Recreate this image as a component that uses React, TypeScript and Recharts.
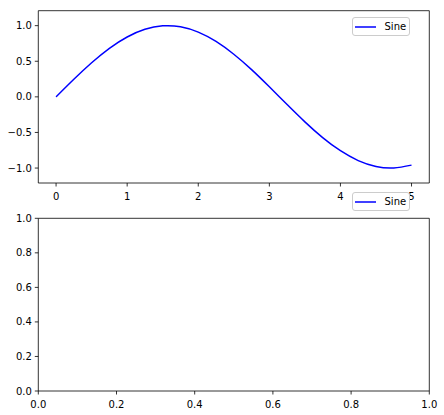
import { LineChart, Line, XAxis, YAxis, ReferenceLine } from 'recharts';

// sine curve
const xValues = [0, 0.25, 0.5, 0.75, 1, 1.25, 1.5, 1.75, 2, 2.25, 2.5, 2.75, 3, 3.25, 3.5, 3.75, 4, 4.25, 4.5, 4.75, 5];
const sineValues = [0, 0.247, 0.479, 0.682, 0.841, 0.949, 0.997, 0.984, 0.909, 0.778, 0.598, 0.382, 0.141, -0.108, -0.351, -0.572, -0.757, -0.895, -0.978, -0.999, -0.959];
const topXTicks = [0, 1, 2, 3, 4, 5];
const topYTicks = [-1, -0.5, 0, 0.5, 1];
const bottomTicks = [0, 0.2, 0.4, 0.6, 0.8, 1];
const seriesName = 'Sine';

const sineData = xValues.map((x, i) => ({ x, y: sineValues[i] }));

const topXDomain: [number, number] = [-0.25, 5.25];
const topYDomain: [number, number] = [-1.21, 1.21];

const FONT = '"DejaVu Sans", sans-serif';
const tickStyle = { fill: '#000', fontSize: 10, fontFamily: FONT };
const axisLine = { stroke: '#000', strokeWidth: 0.8 };
const tickLine = { stroke: '#000', strokeWidth: 0.8 };

const minus = (s: string) => s.replace('-', '\u2212');
const fmtInt = (v: number) => minus(String(v));
const fmt1 = (v: number) => minus(v.toFixed(1));

// matplotlib-style legend box, placed over the chart
const LegendBox = ({ left, top }: { left: number; top: number }) => (
  <div style={{
    position: 'absolute', left, top,
    width: 56, height: 17, border: '1px solid #cccccc', borderRadius: 3,
    background: 'rgba(255,255,255,0.8)', display: 'flex', alignItems: 'center',
    fontFamily: FONT, fontSize: 10, color: '#000',
  }}>
    <svg width={30} height={17} style={{ display: 'block' }}>
      <line x1={2} x2={23} y1={9} y2={9} stroke="#0000ff" strokeWidth={1.5} />
    </svg>
    <span style={{ marginLeft: 2 }}>{seriesName}</span>
  </div>
);

const App = () => (
  <div style={{ position: 'absolute', left: 0, top: 0, width: 444, height: 415, background: '#fff', fontFamily: FONT }}>
    <div style={{ position: 'absolute', left: 0, top: 0 }}>
      <LineChart width={444} height={205} data={sineData} margin={{ top: 10.7, right: 14.7, left: 0, bottom: 0 }}>
        <XAxis dataKey="x" type="number" domain={topXDomain} ticks={topXTicks} tickFormatter={fmtInt}
          tick={tickStyle} axisLine={axisLine} tickLine={tickLine} tickSize={3.5} tickMargin={6} height={22} allowDataOverflow />
        <YAxis type="number" domain={topYDomain} ticks={topYTicks} tickFormatter={fmt1}
          tick={tickStyle} axisLine={axisLine} tickLine={tickLine} tickSize={3.5} tickMargin={3} width={38.3} allowDataOverflow />
        <ReferenceLine y={topYDomain[1]} stroke="#000" strokeWidth={0.8} ifOverflow="visible" />
        <ReferenceLine x={topXDomain[1]} stroke="#000" strokeWidth={0.8} ifOverflow="visible" />
        <Line dataKey="y" name={seriesName} type="natural" stroke="#0000ff" strokeWidth={1.5} dot={false} isAnimationActive={false} />
      </LineChart>
      <LegendBox left={351.5} top={17.3} />
    </div>
    <div style={{ position: 'absolute', left: 0, top: 185 }}>
      <LineChart width={444} height={230} data={[]} margin={{ top: 33.3, right: 14.7, left: 0, bottom: 0 }}>
        <XAxis dataKey="x" type="number" domain={[0, 1]} ticks={bottomTicks} tickFormatter={fmt1}
          tick={tickStyle} axisLine={axisLine} tickLine={tickLine} tickSize={3.5} tickMargin={6} height={24} allowDataOverflow />
        <YAxis type="number" domain={[0, 1]} ticks={bottomTicks} tickFormatter={fmt1}
          tick={tickStyle} axisLine={axisLine} tickLine={tickLine} tickSize={3.5} tickMargin={3} width={38.3} allowDataOverflow />
        <ReferenceLine y={1} stroke="#000" strokeWidth={0.8} ifOverflow="visible" />
        <ReferenceLine x={1} stroke="#000" strokeWidth={0.8} ifOverflow="visible" />
      </LineChart>
      <LegendBox left={351.5} top={6.7} />
    </div>
  </div>
);

export default App;
